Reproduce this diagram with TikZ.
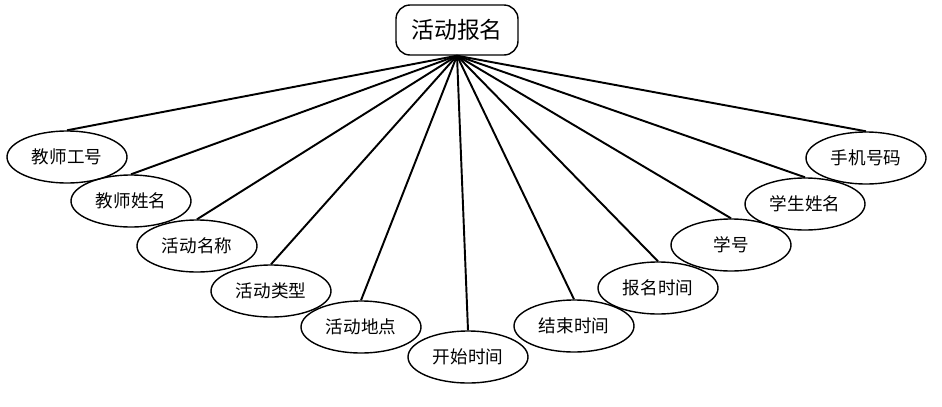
\documentclass[tikz,border=0pt]{standalone}
\usepackage{fontspec}
\newfontfamily\cjk{Noto Sans CJK SC}
\usetikzlibrary{shapes.geometric}
\begin{document}
\begin{tikzpicture}[
    x=0.02cm, y=-0.02cm,
    entity/.style={rectangle, draw, thick, rounded corners=8pt, minimum width=122*0.02cm, minimum height=50*0.02cm, font=\cjk\fontsize{13}{15}\selectfont},
    attr/.style={ellipse, draw, line width=0.8pt, minimum width=120*0.02cm, minimum height=52*0.02cm, inner sep=0pt, font=\cjk\fontsize{10}{12}\selectfont},
    link/.style={line width=1.1pt},
]
    \useasboundingbox (0,0) rectangle (942,406);

    % entity
    \node[entity] (signup) at (457,30) {活动报名};

    % attributes, left half
    \node[attr] (tid) at (67,157) {教师工号};
    \node[attr] (tname) at (131,201) {教师姓名};
    \node[attr] (aname) at (197,246) {活动名称};
    \node[attr] (atype) at (271,291) {活动类型};
    \node[attr] (aplace) at (361,327) {活动地点};
    \node[attr] (tstart) at (468,357) {开始时间};

    % attributes, right half
    \node[attr] (tend) at (574,326) {结束时间};
    \node[attr] (tsign) at (658,288) {报名时间};
    \node[attr] (sid) at (731,245) {学号};
    \node[attr] (sname) at (805,204) {学生姓名};
    \node[attr] (phone) at (866,158) {手机号码};

    % links
    \foreach \a in {tid,tname,aname,atype,aplace,tstart,tend,tsign,sid,sname,phone}
        \draw[link] (signup.south) -- (\a.north);
\end{tikzpicture}
\end{document}
